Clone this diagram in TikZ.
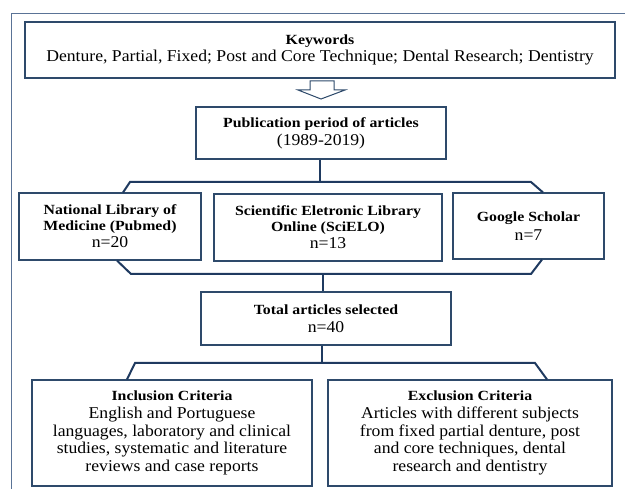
\documentclass[tikz,border=0pt]{standalone}
\usepackage{fontspec}
\setmainfont[FakeStretch=1.07]{Liberation Serif}
\newfontfamily\bfam[FakeStretch=1.13]{Liberation Serif}
\begin{document}
\begin{tikzpicture}[x=1pt,y=-1pt,
  box/.style={draw=boxc, line width=1.1pt, align=center, inner sep=0pt, fill=white,
    font=\fontsize{16.5}{17.8}\selectfont},
  conn/.style={draw=connc, line width=2pt}]
\definecolor{boxc}{HTML}{2E4A6B}
\definecolor{connc}{HTML}{1F3A60}
\definecolor{framec}{HTML}{5A7396}
\newcommand{\bt}{\fontsize{14}{15}\selectfont\bfam\bfseries}
\useasboundingbox (0,0) rectangle (625,489);
\draw[framec, line width=1pt] (11,500) -- (11,14) -- (640,14);
% boxes
\node[box, minimum width=590, minimum height=56] (kw) at (320,50)
  {{\bt Keywords}\\Denture, Partial, Fixed; Post and Core Technique; Dental Research; Dentistry};
\node[box, minimum width=250, minimum height=52] (pub) at (321,133)
  {{\bt Publication period of articles}\\(1989-2019)};
\node[box, minimum width=182, minimum height=67] (pm) at (110,226.5)
  {{\bt National Library of}\\[-2.5pt]{\bt Medicine (Pubmed)}\\n=20};
\node[box, minimum width=228, minimum height=67] (sc) at (328,227.5)
  {{\bt Scientific Eletronic Library}\\[-2.5pt]{\bt Online (SciELO)}\\n=13};
\node[box, minimum width=151, minimum height=66] (gs) at (528.5,226)
  {{\bt Google Scholar}\\[1pt]n=7};
\node[box, minimum width=250, minimum height=53] (tot) at (326,318.5)
  {{\bt Total articles selected}\\n=40};
\node[box, minimum width=280, minimum height=106] (inc) at (172,433)
  {{\bt Inclusion Criteria}\\English and Portuguese\\languages, laboratory and clinical\\studies, systematic and literature\\reviews and case reports};
\node[box, minimum width=284, minimum height=106] (exc) at (470,433)
  {{\bt Exclusion Criteria}\\Articles with different subjects\\from fixed partial denture, post\\and core techniques, dental\\research and dentistry};
% hollow arrow
\draw[boxc, line width=1pt, fill=white] (310,81) -- (334,81) -- (334,90) -- (345,90) -- (321,99) -- (298,90) -- (310,90) -- cycle;
% connectors
\coordinate (b1) at (320,182);
\coordinate (b1l) at (130,182);
\coordinate (b1r) at (531,182);
\draw[conn] (pub.south -| b1) -- (b1);
\draw[conn] ([xshift=13]pm.north) -- (b1l) -- (b1r) -- ([xshift=14.5]gs.north);
\coordinate (b2) at (323,274);
\coordinate (b2l) at (131,274);
\coordinate (b2r) at (531,274);
\draw[conn] ([xshift=7]pm.south) -- (b2l) -- (b2r) -- ([xshift=13.5]gs.south);
\draw[conn] (b2) -- (tot.north -| b2);
\coordinate (b3) at (322,363);
\coordinate (b3l) at (135,363);
\coordinate (b3r) at (535,363);
\draw[conn] (tot.south -| b3) -- (b3);
\draw[conn] ([xshift=-45]inc.north) -- (b3l) -- (b3r) -- ([xshift=77]exc.north);
\end{tikzpicture}
\end{document}
